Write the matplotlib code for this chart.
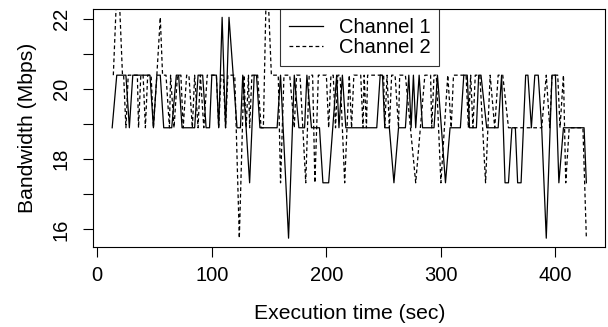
# lib data visualizations
import matplotlib
matplotlib.use("Agg")
import matplotlib.pyplot as plt
# ----------------------------------------------------------------------------------------

# channel 1 samples (time in sec, bandwidth in Mbps)
ch1_time = [13, 17, 25, 28, 31, 46, 49, 52, 55, 58, 65, 69, 71, 74, 85, 88, 92, 95, 98,
            100, 104, 106, 109, 112, 115, 122, 125, 127, 133, 137, 139, 142, 157, 160,
            167, 172, 176, 181, 183, 187, 194, 197, 202, 209, 211, 214, 217, 244, 247,
            249, 251, 255, 259, 263, 269, 272, 274, 276, 278, 281, 284, 294, 297, 304,
            308, 317, 320, 323, 325, 331, 333, 335, 340, 350, 353, 356, 359, 362, 365,
            367, 370, 374, 376, 379, 382, 385, 388, 392, 397, 400, 403, 407, 425, 427]
ch1_bw = [18.9, 20.4, 20.4, 18.9, 20.4, 20.4, 18.9, 20.4, 20.4, 18.9, 18.9, 20.4, 20.4,
          18.9, 18.9, 20.4, 20.4, 18.9, 18.9, 20.4, 20.4, 18.9, 22.05, 18.9, 22.05, 18.9,
          18.9, 20.4, 17.33, 20.4, 20.4, 18.9, 18.9, 20.4, 15.75, 20.4, 18.9, 18.9, 20.4,
          18.9, 18.9, 17.33, 17.33, 20.4, 18.9, 20.4, 18.9, 18.9, 20.4, 20.4, 18.9, 18.9,
          17.33, 18.9, 18.9, 20.4, 18.9, 20.4, 18.9, 20.4, 18.9, 18.9, 20.4, 17.33, 18.9,
          18.9, 20.4, 20.4, 18.9, 18.9, 20.4, 20.4, 18.9, 18.9, 20.4, 17.33, 17.33, 18.9,
          18.9, 17.33, 17.33, 20.4, 20.4, 18.9, 20.4, 20.4, 18.9, 15.75, 20.4, 20.4, 17.33,
          18.9, 18.9, 17.33]

# channel 2 samples (time in sec, bandwidth in Mbps)
ch2_time = [14, 18, 22, 23, 25, 27, 35, 36, 38, 40, 42, 44, 47, 49, 52, 55, 57, 60, 63,
            64, 67, 70, 73, 75, 78, 80, 83, 85, 88, 90, 93, 96, 104, 106, 108, 110, 112,
            114, 120, 124, 128, 130, 132, 133, 135, 140, 143, 145, 148, 152, 158, 160,
            163, 168, 172, 174, 177, 182, 185, 188, 190, 193, 200, 202, 204, 206, 208,
            210, 212, 216, 220, 222, 224, 230, 232, 233, 235, 236, 250, 251, 253, 255,
            257, 260, 263, 264, 269, 278, 286, 291, 292, 294, 296, 300, 306, 309, 311,
            322, 324, 326, 328, 330, 334, 339, 343, 347, 350, 354, 359, 388, 392, 395,
            397, 402, 404, 407, 409, 412, 424, 427]
ch2_bw = [20.4, 23.6, 20.4, 20.4, 18.9, 20.4, 20.4, 18.9, 20.4, 20.4, 18.9, 20.4, 20.4,
          18.9, 20.4, 22.05, 20.4, 20.4, 18.9, 20.4, 18.9, 20.4, 20.4, 18.9, 20.4, 20.4,
          18.9, 20.4, 18.9, 20.4, 18.9, 20.4, 20.4, 18.9, 20.4, 20.4, 18.9, 20.4, 20.4,
          15.75, 20.4, 18.9, 20.4, 18.9, 20.4, 20.4, 18.9, 18.9, 23.6, 20.4, 20.4, 17.33,
          20.4, 20.4, 18.9, 20.4, 20.4, 17.33, 20.4, 20.4, 17.33, 20.4, 20.4, 18.9, 20.4,
          20.4, 18.9, 20.4, 20.4, 17.33, 20.4, 18.9, 20.4, 20.4, 18.9, 20.4, 18.9, 20.4,
          20.4, 18.9, 20.4, 18.9, 20.4, 20.4, 18.9, 20.4, 20.4, 17.33, 20.4, 20.4, 18.9,
          20.4, 20.4, 17.33, 20.4, 18.9, 20.4, 20.4, 18.9, 20.4, 18.9, 20.4, 20.4, 17.33,
          20.4, 18.9, 20.4, 20.4, 18.9, 18.9, 20.4, 18.9, 20.4, 20.4, 18.9, 20.4, 17.33,
          18.9, 18.9, 15.75]

x_ticks = [0, 100, 200, 300, 400]
y_ticks = [16, 17, 18, 19, 20, 21, 22]
y_tick_labels = ["16", "", "18", "", "20", "", "22"]
# ----------------------------------------------------------------------------------------

plt.rcParams["font.family"] = ["Liberation Sans", "DejaVu Sans"]

# create lineplot
fig, ax = plt.subplots(figsize=(6.08, 3.27), dpi=100)
fig.subplots_adjust(left=0.1533, right=0.9956, top=0.974, bottom=0.2446)

ax.plot(ch1_time, ch1_bw, color="black", linewidth=0.9, label="Channel 1")
ax.plot(ch2_time, ch2_bw, color="black", linewidth=0.9, dashes=(3, 2.2), label="Channel 2")

# R style axis ranges (4% padding around channel 1)
t_span = max(ch1_time) - min(ch1_time)
b_span = max(ch1_bw) - min(ch1_bw)
ax.set_xlim(min(ch1_time) - 0.04 * t_span, max(ch1_time) + 0.04 * t_span)
ax.set_ylim(min(ch1_bw) - 0.04 * b_span, max(ch1_bw) + 0.04 * b_span)

# set ticks and labels
ax.set_xticks(x_ticks)
ax.set_yticks(y_ticks)
ax.set_yticklabels(y_tick_labels, rotation=90, va="center")
ax.tick_params(axis="x", direction="out", length=7, width=0.8, labelsize=14.5, pad=7)
ax.tick_params(axis="y", direction="out", length=7, width=0.8, labelsize=14.5, pad=9)
ax.set_xlabel("Execution time (sec)", fontsize=15.2, labelpad=13)
ax.set_ylabel("Bandwidth (Mbps)", fontsize=15.2, labelpad=11)
for sp in ax.spines.values():
    sp.set_linewidth(0.8)

leg = ax.legend(loc="upper left", bbox_to_anchor=(0.365, 1.0), borderaxespad=0,
                fontsize=14.5, frameon=True, fancybox=False, handlelength=1.7,
                handletextpad=0.75, labelspacing=0.05, borderpad=0.45)
leg.get_frame().set_edgecolor("black")
leg.get_frame().set_linewidth(0.8)

# save lineplot
fig.savefig("out.png", dpi=100)
